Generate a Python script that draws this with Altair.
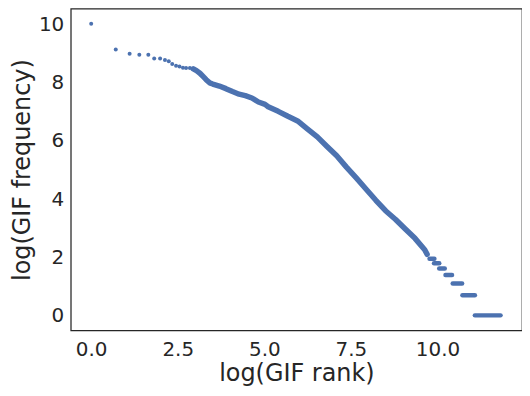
import altair as alt
import pandas as pd

# Sparse top ranks (individual dots)
sparse_x = [0.00, 0.71, 1.11, 1.39, 1.65, 1.82, 1.99, 2.13, 2.24, 2.34,
            2.45, 2.55, 2.65, 2.74, 2.85, 2.95]
sparse_y = [10.03, 9.15, 9.00, 8.97, 8.97, 8.84, 8.84, 8.79, 8.74, 8.65,
            8.59, 8.56, 8.52, 8.51, 8.51, 8.48]

# Dense band of points
band_x = [2.95, 3.04, 3.14, 3.23, 3.32, 3.42, 3.51, 3.70, 3.89, 4.08, 4.27,
          4.45, 4.64, 4.83, 5.02, 5.11, 5.40, 5.68, 5.96, 6.24, 6.53, 6.81,
          7.09, 7.37, 7.66, 7.94, 8.22, 8.50, 8.79, 9.07, 9.35, 9.63, 9.70]
band_y = [8.48, 8.42, 8.33, 8.22, 8.11, 8.00, 7.96, 7.89, 7.80, 7.70, 7.61,
          7.56, 7.48, 7.34, 7.26, 7.18, 7.02, 6.85, 6.69, 6.42, 6.14, 5.81,
          5.49, 5.10, 4.72, 4.34, 3.96, 3.60, 3.30, 2.97, 2.65, 2.26, 2.10]

# Discrete tail: runs of ranks sharing the same low frequency
step_y = [1.95, 1.79, 1.61, 1.39, 1.10, 0.69, 0.00]
step_x_start = [9.77, 9.90, 10.05, 10.23, 10.44, 10.72, 11.08]
step_x_end = [9.91, 10.05, 10.21, 10.42, 10.71, 11.08, 11.82]

x_ticks = [0, 2.5, 5, 7.5, 10]
y_ticks = [0, 2, 4, 6, 8, 10]

BLUE = "#4C72B0"
xscale = alt.Scale(domain=[-0.59, 12.44], nice=False, zero=False)
yscale = alt.Scale(domain=[-0.52, 10.55], nice=False, zero=False)
xaxis = alt.Axis(title="log(GIF rank)", values=x_ticks, format=".1f")
yaxis = alt.Axis(title="log(GIF frequency)", values=y_ticks, format="d")

sparse_df = pd.DataFrame({"x": sparse_x, "y": sparse_y})
band_df = pd.DataFrame({"x": band_x, "y": band_y})
step_df = pd.DataFrame({"x": step_x_start, "x2": step_x_end, "y": step_y})

band = alt.Chart(band_df).mark_line(
    color=BLUE, strokeWidth=5.5, strokeCap="round", strokeJoin="round"
).encode(
    x=alt.X("x:Q", scale=xscale, axis=xaxis),
    y=alt.Y("y:Q", scale=yscale, axis=yaxis),
    order="x:Q",
)

steps = alt.Chart(step_df).mark_rule(
    color=BLUE, strokeWidth=4.5, strokeCap="round"
).encode(
    x=alt.X("x:Q", scale=xscale, axis=xaxis),
    x2="x2:Q",
    y=alt.Y("y:Q", scale=yscale, axis=yaxis),
)

dots = alt.Chart(sparse_df).mark_circle(
    color=BLUE, size=16, opacity=1
).encode(
    x=alt.X("x:Q", scale=xscale, axis=xaxis),
    y=alt.Y("y:Q", scale=yscale, axis=yaxis),
)

chart = alt.layer(band, steps, dots).properties(
    width=516,
    height=378,
    autosize=alt.AutoSizeParams(type="fit", contains="padding"),
    padding={"left": 2, "top": 0, "right": 0, "bottom": 0},
).configure(
    font="DejaVu Sans",
).configure_view(
    stroke="#262626",
    strokeWidth=1.25,
).configure_axis(
    grid=False,
    ticks=False,
    domain=False,
    labelFontSize=20,
    labelColor="#262626",
    titleFontSize=24,
    titleFontWeight="normal",
    titleColor="#262626",
).configure_axisX(
    labelPadding=9,
    titlePadding=2,
).configure_axisY(
    labelPadding=7,
    titlePadding=4,
)

chart.save("out.html", embed_options={"renderer": "svg", "actions": False})
